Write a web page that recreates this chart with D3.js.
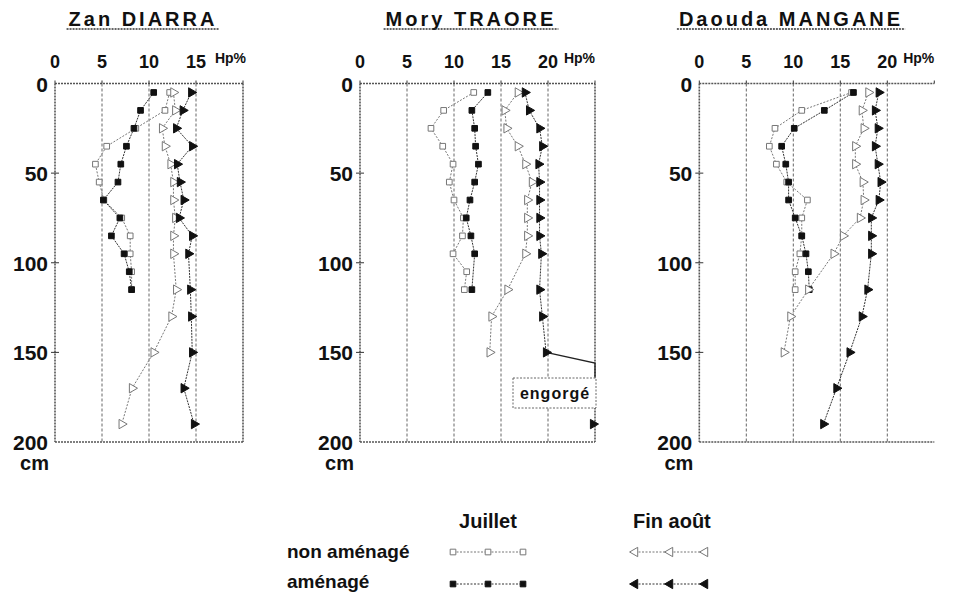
<!DOCTYPE html>
<html><head><meta charset="utf-8">
<script src="https://cdn.jsdelivr.net/npm/d3@7"></script>
<style>
html,body{margin:0;padding:0;background:#fff;}
svg text{font-family:"Liberation Sans",Arial,sans-serif;font-weight:bold;fill:#111;}
</style></head>
<body>
<svg id="c" width="957" height="594"></svg>
<script>
// ---------- DATA ----------
const titles = ["Zan DIARRA", "Mory TRAORE", "Daouda MANGANE"];
const xTicksLabeled = [[0, 5, 10, 15], [0, 5, 10, 15, 20], [0, 5, 10, 15, 20]];
const gridVals = [5, 10, 15, 20];
const yTicks = [0, 50, 100, 150, 200];
const xMax = [20, 25, 25];

// Zan DIARRA
const p1JulDepth = [5,15,25,35,45,55,65,75,85,95,105,115];
const p1JulNon   = [12.2,11.7,8.6,5.5,4.3,4.7,5.2,7.1,8.0,8.0,8.15,8.15];
const p1JulAm    = [10.5,9.1,8.4,7.6,7.0,6.7,5.15,6.9,6.0,7.35,7.9,8.15];
const p1AouDepth = [5,15,25,35,45,55,65,75,85,95,115,130,150,170,190];
const p1AouNon   = [12.6,12.8,11.4,11.7,12.3,12.6,12.6,12.8,12.6,12.6,12.9,12.4,10.5,8.2,7.1];
const p1AouAm    = [14.5,13.6,12.9,14.6,13.0,13.3,13.7,13.2,14.6,14.2,14.4,14.5,14.6,13.7,14.8];

// Mory TRAORE
const p2JulNonDepth = [5,15,25,35,45,55,65,75,85,95,105,115];
const p2JulNon      = [12.1,8.9,7.55,8.8,9.9,9.5,10.0,11.0,10.9,9.9,11.35,11.1];
const p2JulAmDepth  = [5,15,25,35,45,55,65,75,85,95,115];
const p2JulAm       = [13.6,11.9,12.2,12.3,12.6,12.2,11.7,11.3,11.8,12.2,11.9];
const p2AouDepth    = [5,15,25,35,45,55,65,75,85,95,115,130,150];
const p2AouNon      = [16.8,15.4,15.6,16.8,17.6,18.3,17.8,17.8,17.8,17.6,15.7,14.0,13.8];
const p2AouAm       = [17.55,18.0,19.1,19.4,19.0,19.1,19.1,19.1,19.1,19.3,19.1,19.4,19.8];
const p2EngorgeDepth = [150,156,164];
const p2EngorgeVal   = [19.8,25,25];
const p2ExtraDepth = [190];
const p2ExtraVal   = [24.8];

// Daouda MANGANE
const p3JulDepth   = [5,15,25,35,45,55,65,75,85,95,105,115];
const p3JulNon     = [16.2,10.9,8.05,7.45,8.2,9.3,11.5,10.9,10.9,10.7,10.2,10.2];
const p3JulAm      = [16.4,13.3,10.1,8.76,9.2,9.5,9.5,10.2,10.9,11.35,11.6,11.7];
const p3AouNonDepth= [5,15,25,35,45,55,65,75,85,95,115,130,150];
const p3AouNon     = [18.0,17.3,17.5,16.6,16.6,17.4,17.5,17.1,15.3,14.3,11.6,9.7,9.0];
const p3AouAmDepth = [5,15,25,35,45,55,65,75,85,95,115,130,150,170,190];
const p3AouAm      = [19.1,18.7,19.0,18.7,19.0,19.3,19.1,18.3,18.3,18.3,17.9,17.3,16.0,14.6,13.2];

const legendCols = ["Juillet", "Fin août"];
const legendRows = ["non aménagé", "aménagé"];

// ---------- BUILD ----------
const zip = (d, v) => d.map((dd, i) => ({d: dd, v: v[i]}));
const panels = [
  {series: [
    {pts: zip(p1JulDepth, p1JulNon), shape: "sq", filled: false},
    {pts: zip(p1JulDepth, p1JulAm), shape: "sq", filled: true},
    {pts: zip(p1AouDepth, p1AouNon), shape: "tri", filled: false},
    {pts: zip(p1AouDepth, p1AouAm), shape: "tri", filled: true}]},
  {series: [
    {pts: zip(p2JulNonDepth, p2JulNon), shape: "sq", filled: false},
    {pts: zip(p2JulAmDepth, p2JulAm), shape: "sq", filled: true},
    {pts: zip(p2AouDepth, p2AouNon), shape: "tri", filled: false},
    {pts: zip(p2AouDepth, p2AouAm), shape: "tri", filled: true},
    {pts: zip(p2EngorgeDepth, p2EngorgeVal), shape: null, filled: true, solid: true},
    {pts: zip(p2ExtraDepth, p2ExtraVal), shape: "tri", filled: true, noLine: true}],
   note: "engorgé"},
  {series: [
    {pts: zip(p3JulDepth, p3JulNon), shape: "sq", filled: false},
    {pts: zip(p3JulDepth, p3JulAm), shape: "sq", filled: true},
    {pts: zip(p3AouNonDepth, p3AouNon), shape: "tri", filled: false},
    {pts: zip(p3AouAmDepth, p3AouAm), shape: "tri", filled: true}],
   noRight: true}
];

const svg = d3.select("#c");
const lefts = [55, 360, 699.3];
const pxPerUnit = 9.4;
const y = d3.scaleLinear().domain([0, 200]).range([83.5, 442]);
const titleCenters = [143, 471, 791];

const sqSym = d3.symbol().type(d3.symbolSquare).size(32);
const triSym = d3.symbol().type(d3.symbolTriangle).size(38);

function drawMarker(g, shape, filled, cx, cy, rot) {
  if (!shape) return;
  g.append("path")
    .attr("d", shape === "sq" ? sqSym() : triSym())
    .attr("transform", `translate(${cx},${cy}) rotate(${shape === "tri" ? rot : 0})`)
    .attr("fill", filled ? "#111" : "#fff")
    .attr("stroke", filled ? "#111" : "#777")
    .attr("stroke-width", 1);
}

panels.forEach((P, i) => {
  const x = d3.scaleLinear().domain([0, xMax[i]]).range([lefts[i], lefts[i] + xMax[i] * pxPerUnit]);
  const g = svg.append("g");
  const [x0, x1] = x.range();
  const [y0, y1] = y.range();

  // title
  const t = g.append("text").attr("x", titleCenters[i]).attr("y", 26)
    .attr("text-anchor", "middle").style("font-size", "20px").style("letter-spacing", "3px")
    .text(titles[i]);
  const bb = t.node().getBBox();
  g.append("line").attr("x1", bb.x - 2).attr("x2", bb.x + bb.width + 2)
    .attr("y1", 29).attr("y2", 29).attr("stroke", "#333").attr("stroke-width", 1.5)
    .attr("stroke-dasharray", "2,1");

  // gridlines
  gridVals.filter(v => v < xMax[i]).forEach(v => {
    g.append("line").attr("x1", x(v)).attr("x2", x(v)).attr("y1", y0).attr("y2", y1)
      .attr("stroke", "#666").attr("stroke-width", 1).attr("stroke-dasharray", "3,2");
  });
  // borders
  const bstyle = s => s.attr("stroke", "#555").attr("stroke-width", 1.6).attr("stroke-dasharray", "2,1").attr("fill", "none");
  bstyle(g.append("line").attr("x1", x0).attr("x2", x1).attr("y1", y0).attr("y2", y0));
  bstyle(g.append("line").attr("x1", x0).attr("x2", x1).attr("y1", y1).attr("y2", y1));
  bstyle(g.append("line").attr("x1", x0).attr("x2", x0).attr("y1", y0).attr("y2", y1));
  if (!P.noRight) bstyle(g.append("line").attr("x1", x1).attr("x2", x1).attr("y1", y0).attr("y2", y1));

  // top ticks + labels
  d3.range(0, xMax[i] + 0.1, 5).forEach(v => {
    g.append("line").attr("x1", x(v)).attr("x2", x(v)).attr("y1", y0 - 3).attr("y2", y0)
      .attr("stroke", "#333").attr("stroke-width", 1);
  });
  xTicksLabeled[i].forEach(v => {
    g.append("text").attr("x", x(v)).attr("y", 68).attr("text-anchor", "middle")
      .style("font-size", "18px").text(v);
  });
  g.append("text").attr("x", x1 + (i === 0 ? 3 : 0)).attr("y", 63).attr("text-anchor", "end")
    .style("font-size", "14px").text("Hp%");

  // left ticks + labels
  yTicks.forEach(d => {
    if (d > 0 && d < 200) g.append("line").attr("x1", x0 - 4).attr("x2", x0 + 4)
      .attr("y1", y(d)).attr("y2", y(d)).attr("stroke", "#333").attr("stroke-width", 1);
    g.append("text").attr("x", x0 - 7).attr("y", y(d) + 8).attr("text-anchor", "end")
      .style("font-size", "21px").text(d);
  });
  g.append("text").attr("x", x0 - 6).attr("y", 470).attr("text-anchor", "end")
    .style("font-size", "20px").text("cm");

  // series
  const line = d3.line().x(p => x(p.v)).y(p => y(p.d));
  P.series.forEach(s => {
    if (!s.noLine) g.append("path").attr("d", line(s.pts)).attr("fill", "none")
      .attr("stroke", s.solid ? "#222" : (s.filled ? "#333" : "#777"))
      .attr("stroke-width", s.solid ? 1.3 : 1)
      .attr("stroke-dasharray", s.solid ? null : (s.filled ? "2,1" : "2,1.5"));
  });
  P.series.forEach(s => {
    s.pts.forEach(p => drawMarker(g, s.shape, s.filled, x(p.v), y(p.d), 90));
  });

  if (P.note) {
    g.append("rect").attr("x", 513).attr("y", 378).attr("width", 83).attr("height", 30)
      .attr("fill", "#fff").attr("stroke", "#666").attr("stroke-width", 1).attr("stroke-dasharray", "2,1.5");
    g.append("text").attr("x", 555).attr("y", 399).attr("text-anchor", "middle")
      .style("font-size", "16px").style("letter-spacing", "1px").text(P.note);
  }
});

// legend
const L = svg.append("g");
legendCols.forEach((c, i) => {
  L.append("text").attr("x", i === 0 ? 488 : 633).attr("y", 528)
    .attr("text-anchor", i === 0 ? "middle" : "start").style("font-size", "20px").text(c);
});
const rowY = [552, 584];
const rowBase = [558, 588];
legendRows.forEach((r, j) => {
  L.append("text").attr("x", 287).attr("y", rowBase[j]).style("font-size", "19px").text(r);
  const filled = j === 1;
  [["sq", [453, 488, 523]], ["tri", [635, 670, 705]]].forEach(([shape, xs]) => {
    L.append("line").attr("x1", xs[0]).attr("x2", xs[2]).attr("y1", rowY[j]).attr("y2", rowY[j])
      .attr("stroke", filled ? "#333" : "#777").attr("stroke-width", 1).attr("stroke-dasharray", "2,1.5");
    xs.forEach(xx => drawMarker(L, shape, filled, xx, rowY[j], -90));
  });
});
</script>
</body></html>
